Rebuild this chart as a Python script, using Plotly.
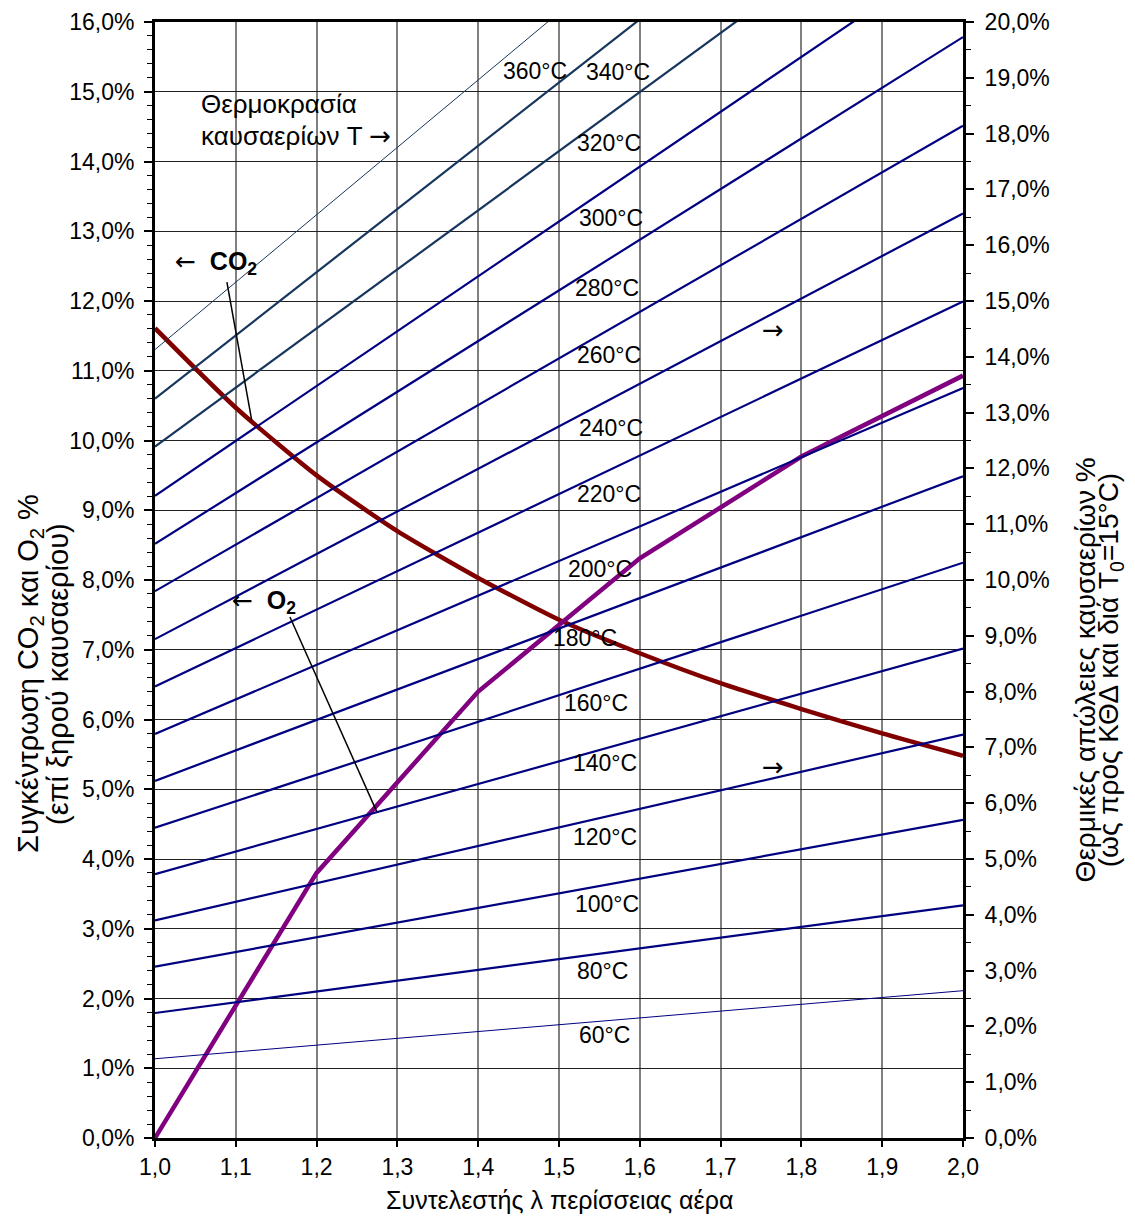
import plotly.graph_objects as go

# ---------------- data ----------------
lam_ticks = [1.0, 1.1, 1.2, 1.3, 1.4, 1.5, 1.6, 1.7, 1.8, 1.9, 2.0]
lam_labels = ["1,0", "1,1", "1,2", "1,3", "1,4", "1,5", "1,6", "1,7", "1,8", "1,9", "2,0"]
left_ticks = list(range(0, 17))
left_labels = [f"{v},0%" for v in left_ticks]
right_ticks = list(range(0, 21))
right_labels = [f"{v},0%" for v in right_ticks]

# flue gas temperatures and heat losses (%) at lambda = 1.0 and 2.0 (right axis)
temps = [60, 80, 100, 120, 140, 160, 180, 200, 220, 240, 260, 280, 300, 320, 340, 360]
loss_lam = [1.0, 2.0]
loss_at_1 = [1.42, 2.24, 3.07, 3.90, 4.73, 5.56, 6.40, 7.24, 8.09, 8.94, 9.80, 10.65, 11.51, 12.39, 13.25, 14.13]
loss_at_2 = [2.64, 4.17, 5.70, 7.23, 8.77, 10.31, 11.86, 13.44, 14.99, 16.57, 18.14, 19.73, 21.34, 22.98, 24.58, 26.21]

# CO2 (left axis)
co2_lam = [1.0, 1.1, 1.2, 1.3, 1.4, 1.5, 1.6, 1.7, 1.8, 1.9, 2.0]
co2_val = [11.61, 10.47, 9.50, 8.70, 8.03, 7.43, 6.95, 6.52, 6.15, 5.80, 5.48]

# O2 (left axis)
o2_lam = [1.0, 1.2, 1.4, 1.6, 1.8, 2.0]
o2_val = [0.0, 3.80, 6.40, 8.31, 9.77, 10.93]

# label positions for temperature lines (lambda, right-axis %)
temp_label_pos = {
    360: (1.470, 19.13), 340: (1.573, 19.11), 320: (1.562, 17.83), 300: (1.564, 16.48),
    280: (1.559, 15.23), 260: (1.562, 14.03), 240: (1.564, 12.72), 220: (1.562, 11.54),
    200: (1.551, 10.19), 180: (1.532, 8.96), 160: (1.546, 7.79), 140: (1.557, 6.72),
    120: (1.557, 5.40), 100: (1.559, 4.19), 80: (1.554, 3.00), 60: (1.556, 1.85),
}

FONT = "Liberation Sans, Arial, sans-serif"
NAVY = "#000080"
SLATE = "#17365D"
TICK_SIZE = 23
ARROW = '<span style="font-family:DejaVu Sans">{}</span>'

fig = go.Figure()

for T, a, b in zip(temps, loss_at_1, loss_at_2):
    color = SLATE if T >= 320 else NAVY
    width = 1 if T in (60, 360) else 2.2
    fig.add_trace(go.Scatter(
        x=loss_lam, y=[a, b], yaxis="y2", mode="lines",
        line=dict(color=color, width=width), showlegend=False, hoverinfo="skip"))

fig.add_trace(go.Scatter(x=co2_lam, y=co2_val, mode="lines",
                         line=dict(color="#800000", width=4.5, shape="spline", smoothing=0.6),
                         showlegend=False))
fig.add_trace(go.Scatter(x=o2_lam, y=o2_val, mode="lines",
                         line=dict(color="#800080", width=4.5), showlegend=False))

annotations = []
for T in temps:
    x, y = temp_label_pos[T]
    annotations.append(dict(x=x, y=y, xref="x", yref="y2", text=f"{T}°C", showarrow=False,
                            font=dict(size=23, color="black", family=FONT)))

def ann(text, x, y, xanchor="left", size=26, **kw):
    d = dict(x=x, y=y, xref="x", yref="y", text=text, showarrow=False, xanchor=xanchor,
             yanchor="middle", font=dict(size=size, color="black", family=FONT))
    d.update(kw)
    annotations.append(d)

ann("Θερμοκρασία", 1.0545, 14.83)
ann("καυσαερίων T " + ARROW.format("→"), 1.0545, 14.36)
ann(ARROW.format("←") + "  <b>CO<sub>2</sub></b>", 1.0223, 12.545, size=25)
ann(ARROW.format("←") + "  <b>O<sub>2</sub></b>", 1.0928, 7.69, size=25)
ann(ARROW.format("→"), 1.765, 11.59, xanchor="center")
ann(ARROW.format("→"), 1.765, 5.32, xanchor="center")

def title_ann(text, x, y, angle=0, size=26):
    annotations.append(dict(x=x, y=y, xref="paper", yref="paper", showarrow=False, textangle=angle,
                            text=text, xanchor="center", yanchor="middle",
                            font=dict(size=size, color="black", family=FONT)))

title_ann("Συντελεστής λ περίσσειας αέρα", 0.5, -0.0556, size=25)
title_ann("Συγκέντρωση CO<sub>2</sub> και O<sub>2</sub> %", -0.1547, 0.4158, -90, 29)
title_ann("(επί ξηρού καυσαερίου)", -0.1200, 0.4158, -90, 29)
title_ann("Θερμικές απώλειες καυσαερίων %", 1.1510, 0.419, -90, 28)
title_ann("(ως προς ΚΘΔ και διά T<sub>0</sub>=15°C)", 1.1830, 0.419, -90, 28)

shapes = [
    dict(type="line", xref="x", yref="y", x0=1.089, y0=12.27, x1=1.1197, y1=10.29,
         line=dict(color="black", width=1.5)),
    dict(type="line", xref="x", yref="y", x0=1.167, y0=7.47, x1=1.2744, y1=4.68,
         line=dict(color="black", width=1.5)),
]

# page has an 8px body margin: figure is shrunk/offset so the plot lands where the reference has it
fig.update_layout(
    width=1119, height=1209,
    margin=dict(l=147, r=164, t=14, b=79, autoexpand=False),
    paper_bgcolor="white", plot_bgcolor="white",
    font=dict(family=FONT, size=TICK_SIZE, color="black"),
    showlegend=False,
    annotations=annotations,
    shapes=shapes,
    xaxis=dict(range=[1.0, 2.0], tickvals=lam_ticks, ticktext=lam_labels, automargin=False,
               showgrid=True, gridcolor="#808080", gridwidth=1.5,
               showline=True, linecolor="black", linewidth=3, mirror=True,
               ticks="outside", ticklen=6, tickwidth=1.5, tickcolor="black",
               tickfont=dict(size=TICK_SIZE, family=FONT, color="black"), zeroline=False),
    yaxis=dict(range=[0, 16], tickvals=left_ticks, ticktext=left_labels, automargin=False,
               showgrid=True, gridcolor="#222222", gridwidth=1,
               showline=True, linecolor="black", linewidth=3,
               ticks="outside", ticklen=8, tickwidth=1.5, tickcolor="black",
               ticklabelstandoff=5,
               minor=dict(dtick=0.2, tick0=0, ticks="outside", ticklen=5, tickwidth=1,
                          tickcolor="black", showgrid=False),
               tickfont=dict(size=TICK_SIZE, family=FONT, color="black"), zeroline=False),
    yaxis2=dict(range=[0, 20], overlaying="y", side="right", tickvals=right_ticks, ticktext=right_labels,
                automargin=False, showgrid=False, showline=True, linecolor="black", linewidth=3,
                ticks="outside", ticklen=8, tickwidth=1.5, tickcolor="black",
                ticklabelstandoff=6,
                minor=dict(dtick=0.5, tick0=0, ticks="outside", ticklen=5, tickwidth=1,
                           tickcolor="black", showgrid=False),
                tickfont=dict(size=TICK_SIZE, family=FONT, color="black"), zeroline=False),
)

fig.write_html("out.html")
